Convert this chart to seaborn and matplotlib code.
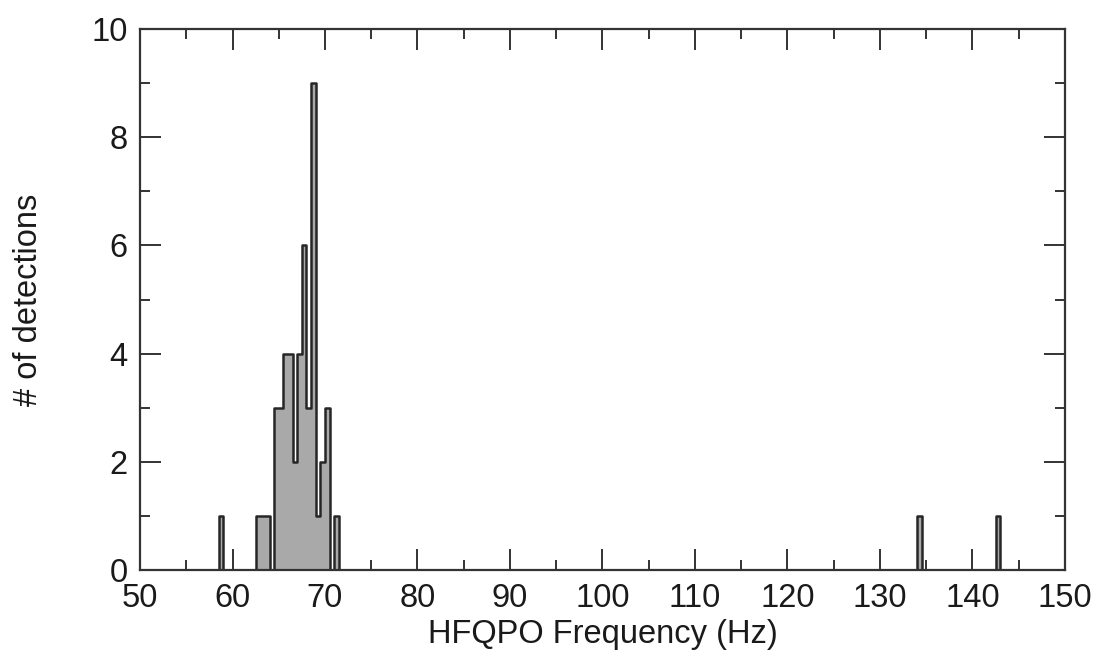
import numpy as np
import pandas as pd
import matplotlib
matplotlib.use("Agg")
import matplotlib.pyplot as plt
from matplotlib.ticker import MultipleLocator
import seaborn as sns

# Data: HFQPO frequency bins (centres, Hz) and number of detections
freq_centres = [58.75, 62.75, 63.25, 63.75, 64.75, 65.25, 65.75, 66.25, 66.75,
                67.25, 67.75, 68.25, 68.75, 69.25, 69.75, 70.25, 71.25,
                134.25, 142.75]
detections = [1, 1, 1, 1, 3, 3, 4, 4, 2, 4, 6, 3, 9, 1, 2, 3, 1, 1, 1]
x_label = "HFQPO Frequency (Hz)"
y_label = "# of detections"

df = pd.DataFrame({"freq": freq_centres, "n": detections})

sns.set_style("ticks")
plt.rcParams["font.family"] = ["Liberation Sans", "DejaVu Sans"]

fig = plt.figure(figsize=(10.99, 6.53), dpi=100)
ax = fig.add_axes([0.1274, 0.127, 0.8416, 0.8286])

sns.histplot(data=df, x="freq", weights="n", binwidth=0.5, binrange=(50, 150),
             element="step", fill=True, ax=ax,
             facecolor="#a9a9a9", edgecolor="#262626", linewidth=1.8, alpha=1.0)

ax.set_xlim(50, 150)
ax.set_ylim(0, 10)
ax.xaxis.set_major_locator(MultipleLocator(10))
ax.xaxis.set_minor_locator(MultipleLocator(5))
ax.yaxis.set_major_locator(MultipleLocator(2))
ax.yaxis.set_minor_locator(MultipleLocator(1))

ax.tick_params(which="both", direction="in", top=True, right=True,
               color="#333333", width=1.4)
ax.tick_params(which="major", length=15, labelsize=23.5, labelcolor="#1a1a1a")
ax.tick_params(which="minor", length=7.5)
ax.tick_params(axis="x", which="major", pad=9)
ax.tick_params(axis="y", which="major", pad=9)

for sp in ax.spines.values():
    sp.set_visible(True)
    sp.set_color("#333333")
    sp.set_linewidth(1.6)

ax.set_xlabel(x_label, fontsize=23.5, color="#1a1a1a", labelpad=4)
ax.set_ylabel(y_label, fontsize=23.5, color="#1a1a1a", labelpad=34)

fig.savefig("out.png", dpi=100)
